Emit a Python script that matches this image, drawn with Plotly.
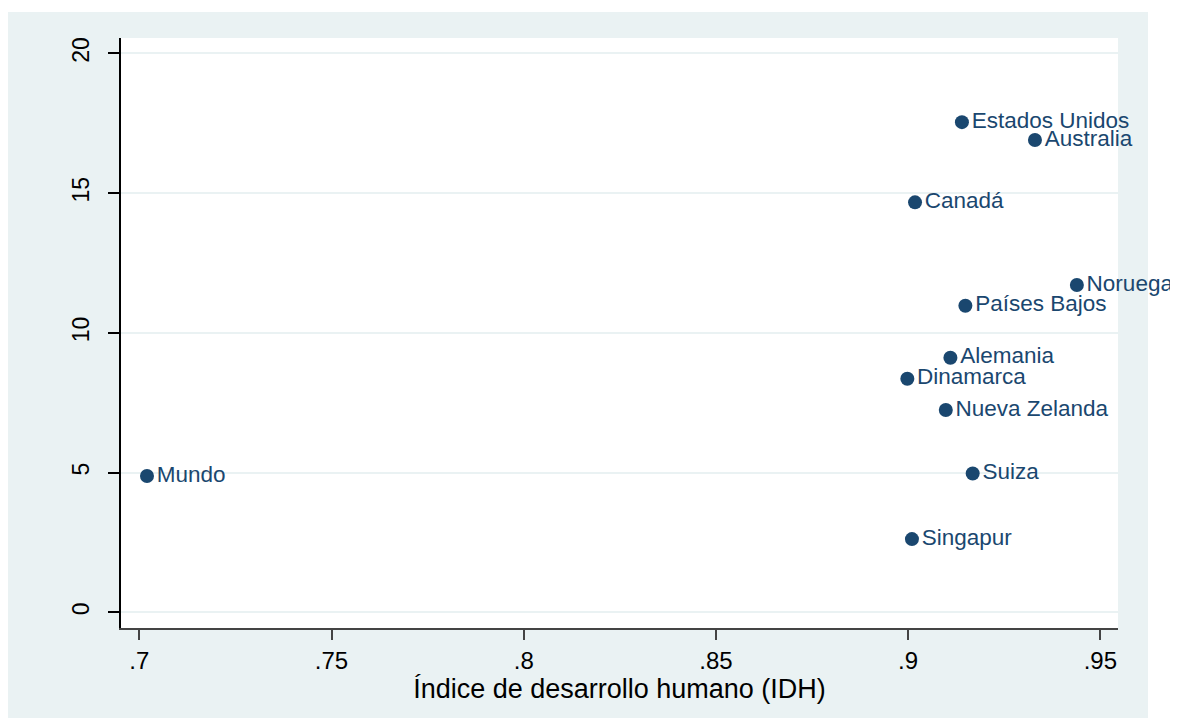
import plotly.graph_objects as go

countries = ["Mundo", "Estados Unidos", "Australia", "Canadá", "Noruega", "Países Bajos",
             "Alemania", "Dinamarca", "Nueva Zelanda", "Suiza", "Singapur"]
idh = [0.702, 0.914, 0.933, 0.9018, 0.9439, 0.9149, 0.9110, 0.8998, 0.9098, 0.9168, 0.9010]
valor = [4.88, 17.54, 16.90, 14.67, 11.71, 10.97, 9.11, 8.36, 7.24, 4.97, 2.62]

x_ticks = [0.7, 0.75, 0.8, 0.85, 0.9, 0.95]
x_ticklabels = [".7", ".75", ".8", ".85", ".9", ".95"]
y_ticks = [0, 5, 10, 15, 20]
y_ticklabels = ["0", "5", "10", "15", "20"]

navy = "#1A476F"
bg = "#EAF2F3"
font = "Liberation Sans, Arial, sans-serif"

fig = go.Figure()
fig.add_trace(go.Scatter(
    x=idh, y=valor, mode="markers+text", text=countries,
    textposition="middle right",
    marker=dict(color=navy, size=14),
    textfont=dict(color=navy, size=22.5, family=font),
    cliponaxis=False, showlegend=False, hoverinfo="skip",
))

fig.update_layout(
    width=1170, height=710,
    margin=dict(l=113, r=60, t=30, b=90),
    paper_bgcolor="white", plot_bgcolor="white",
    font=dict(family=font, color="black", size=23),
    shapes=[
        dict(type="rect", xref="paper", yref="paper", x0=-0.1133, x1=1.0301,
             y0=-0.1525, y1=1.0441, fillcolor=bg, line=dict(width=0), layer="below"),
        dict(type="rect", xref="paper", yref="paper", x0=0, x1=1, y0=0, y1=1,
             fillcolor="white", line=dict(width=0), layer="below"),
    ],
)
fig.update_xaxes(
    range=[0.69524, 0.9546], tickvals=x_ticks, ticktext=x_ticklabels,
    showgrid=False, zeroline=False, showline=True, linecolor="#444", linewidth=1.5,
    ticks="outside", ticklen=10, tickcolor="#444", tickwidth=1.5,
    tickfont=dict(size=24, color="black"),
    title=dict(text="Índice de desarrollo humano (IDH)", font=dict(size=27, color="black"), standoff=0),
)
fig.update_yaxes(
    range=[-0.56, 20.55], tickvals=y_ticks, ticktext=y_ticklabels,
    showgrid=True, gridcolor=bg, gridwidth=1.5, zeroline=False,
    showline=True, linecolor="black", linewidth=1.5,
    ticks="outside", ticklen=11, tickcolor="black", tickwidth=1.5,
    tickangle=-90, tickfont=dict(size=23, color="black"), ticklabelstandoff=10,
)

fig.write_html("out.html")
